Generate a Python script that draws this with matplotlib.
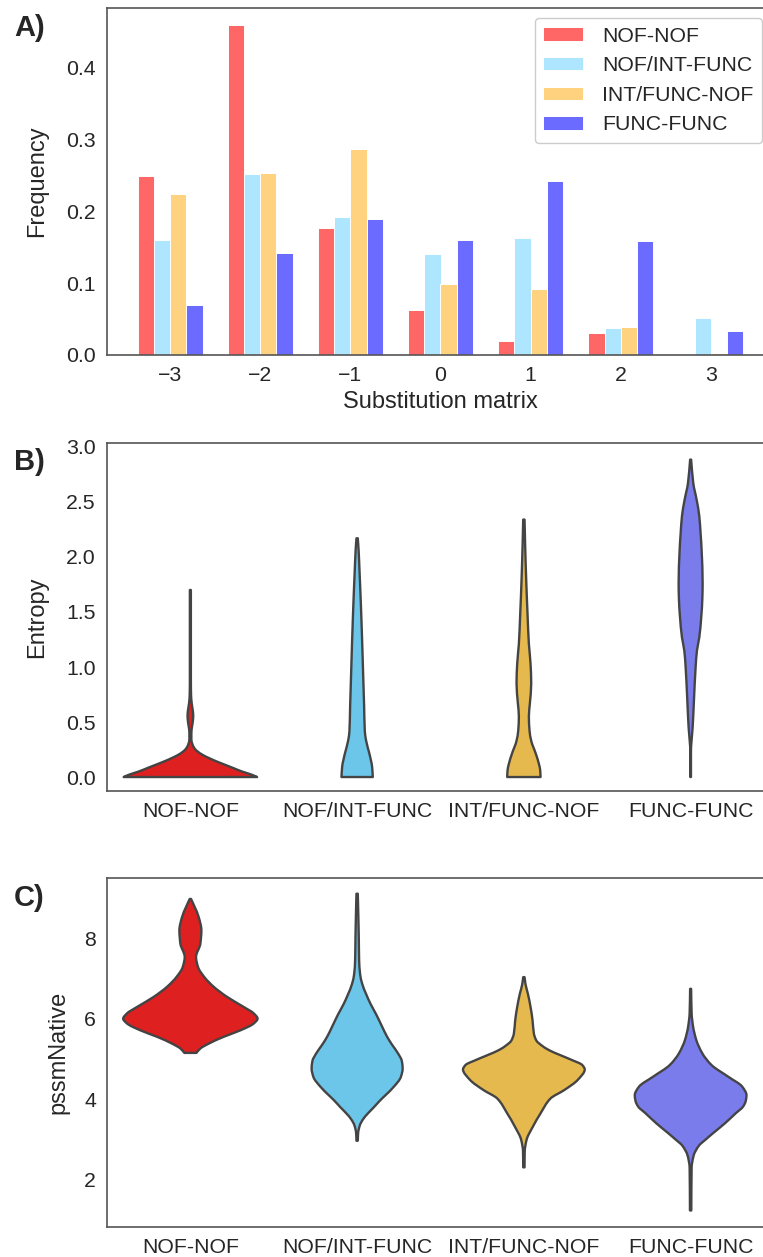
import numpy as np
import matplotlib
matplotlib.use('Agg')
import matplotlib.pyplot as plt
from matplotlib.path import Path
from matplotlib.patches import PathPatch

plt.rcParams['font.family'] = ['Liberation Sans', 'DejaVu Sans']

# --- data panel A ---
subst = [-3, -2, -1, 0, 1, 2, 3]
groups = ['NOF-NOF', 'NOF/INT-FUNC', 'INT/FUNC-NOF', 'FUNC-FUNC']
freq_nof_nof = [0.249, 0.458, 0.176, 0.062, 0.020, 0.030, 0.0]
freq_nof_int = [0.160, 0.251, 0.192, 0.140, 0.163, 0.037, 0.052]
freq_int_nof = [0.223, 0.253, 0.286, 0.098, 0.091, 0.039, 0.003]
freq_func_func = [0.069, 0.141, 0.189, 0.160, 0.242, 0.158, 0.033]
bar_colors = ['#FF6666', '#AEE6FF', '#FFD27F', '#6B6BFF']

# --- data panel B (entropy violins: value, half width) ---
ent_nof_nof_y = [0.0, 0.02, 0.05, 0.08, 0.11, 0.14, 0.17, 0.20, 0.23, 0.26, 0.30, 0.34, 0.40,
                 0.46, 0.51, 0.56, 0.61, 0.67, 0.75, 0.9, 1.2, 1.5, 1.70]
ent_nof_nof_w = [0.40, 0.37, 0.31, 0.26, 0.21, 0.16, 0.115, 0.075, 0.045, 0.025, 0.012, 0.006, 0.006,
                 0.010, 0.015, 0.017, 0.014, 0.008, 0.004, 0.003, 0.003, 0.003, 0.003]
ent_nof_int_y = [0.0, 0.09, 0.21, 0.33, 0.42, 0.64, 0.94, 1.24, 1.55, 1.85, 2.06, 2.17]
ent_nof_int_w = [0.094, 0.09, 0.074, 0.054, 0.046, 0.042, 0.036, 0.03, 0.023, 0.015, 0.009, 0.004]
ent_int_nof_y = [0.0, 0.06, 0.12, 0.21, 0.33, 0.42, 0.55, 0.67, 0.85, 1.03, 1.21, 1.48, 1.79, 2.09, 2.34]
ent_int_nof_w = [0.10, 0.098, 0.09, 0.072, 0.044, 0.034, 0.03, 0.036, 0.044, 0.04, 0.03, 0.022, 0.014,
                 0.008, 0.004]
ent_func_y = [0.0, 0.24, 0.32, 0.45, 0.70, 1.0, 1.15, 1.27, 1.46, 1.61, 1.76, 2.06, 2.21, 2.37, 2.52,
              2.67, 2.885]
ent_func_w = [0.002, 0.002, 0.005, 0.012, 0.02, 0.03, 0.038, 0.052, 0.064, 0.07, 0.072, 0.066, 0.06,
              0.052, 0.036, 0.016, 0.003]

# --- data panel C (pssmNative violins) ---
pssm_nof_nof_y = [5.15, 5.26, 5.38, 5.55, 5.71, 5.88, 6.00, 6.13, 6.29, 6.54, 6.79, 7.03, 7.28, 7.53,
                  7.86, 8.19, 8.52, 8.77, 8.97]
pssm_nof_nof_w = [0.036, 0.06, 0.11, 0.20, 0.30, 0.38, 0.403, 0.38, 0.32, 0.22, 0.14, 0.084, 0.046,
                  0.034, 0.06, 0.066, 0.05, 0.026, 0.004]
pssm_nof_int_y = [2.97, 3.16, 3.35, 3.50, 3.65, 3.80, 3.98, 4.10, 4.31, 4.55, 4.76, 4.95, 5.14, 5.35,
                  5.55, 5.80, 6.10, 6.37, 6.60, 6.87, 7.10, 7.45, 8.0, 8.6, 9.10]
pssm_nof_int_w = [0.004, 0.006, 0.016, 0.035, 0.065, 0.10, 0.14, 0.17, 0.22, 0.262, 0.273, 0.268, 0.245,
                  0.21, 0.18, 0.15, 0.115, 0.08, 0.055, 0.03, 0.018, 0.012, 0.01, 0.007, 0.004]
pssm_int_nof_y = [2.31, 2.70, 2.99, 3.32, 3.65, 4.02, 4.23, 4.48, 4.74, 4.85, 4.97, 5.10, 5.22, 5.34,
                  5.45, 5.63, 5.96, 6.29, 6.62, 6.85, 7.03]
pssm_int_nof_w = [0.004, 0.005, 0.016, 0.054, 0.10, 0.16, 0.243, 0.323, 0.365, 0.35, 0.29, 0.215,
                  0.15, 0.105, 0.076, 0.06, 0.052, 0.04, 0.024, 0.01, 0.004]
pssm_func_y = [1.24, 2.30, 2.60, 2.85, 3.00, 3.16, 3.40, 3.65, 3.82, 3.95, 4.10, 4.31, 4.56, 4.85,
               5.14, 5.47, 5.80, 6.13, 6.74]
pssm_func_w = [0.004, 0.006, 0.018, 0.05, 0.09, 0.135, 0.205, 0.27, 0.315, 0.33, 0.335, 0.31, 0.225,
               0.125, 0.07, 0.034, 0.015, 0.006, 0.003]

violin_colors = ['#DE2020', '#6CC6EA', '#E5B94D', '#7A7CEC']
edge = '#444444'
txt = '#262626'


def slopes(y, w):
    # monotone (pchip style) tangents dw/dy so the outline does not overshoot
    h = np.diff(y)
    d = np.diff(w) / h
    m = np.zeros_like(w)
    for i in range(1, len(w) - 1):
        if d[i - 1] * d[i] > 0:
            w1 = 2 * h[i] + h[i - 1]
            w2 = h[i] + 2 * h[i - 1]
            m[i] = (w1 + w2) / (w1 / d[i - 1] + w2 / d[i])
    m[0] = d[0]
    m[-1] = d[-1]
    return m


def side(x0, sign, y, w, m, verts, codes):
    for i in range(len(y) - 1):
        h = y[i + 1] - y[i]
        verts += [(x0 + sign * (w[i] + m[i] * h / 3), y[i] + h / 3),
                  (x0 + sign * (w[i + 1] - m[i + 1] * h / 3), y[i + 1] - h / 3),
                  (x0 + sign * w[i + 1], y[i + 1])]
        codes += [Path.CURVE4] * 3


def draw_violin(ax, x0, ys, ws, color):
    y = np.asarray(ys, float)
    w = np.asarray(ws, float)
    m = slopes(y, w)
    verts = [(x0 + w[0], y[0])]
    codes = [Path.MOVETO]
    side(x0, 1, y, w, m, verts, codes)
    yr, wr, mr = y[::-1], w[::-1], m[::-1]
    verts.append((x0 - wr[0], yr[0]))
    codes.append(Path.LINETO)
    side(x0, -1, yr, wr, mr, verts, codes)
    verts.append((x0 + w[0], y[0]))
    codes.append(Path.CLOSEPOLY)
    patch = PathPatch(Path(verts, codes), facecolor=color, edgecolor=edge, lw=1.7,
                      joinstyle='round')
    ax.add_patch(patch)


W, H = 763, 1257
fig = plt.figure(figsize=(W / 100, H / 100), dpi=100)

L, R = 107, 774


def make_ax(top, bottom):
    return fig.add_axes([L / W, 1 - bottom / H, (R - L) / W, (bottom - top) / H])


def style(ax):
    for s in ax.spines.values():
        s.set_color('#555555')
        s.set_linewidth(1.2)
    ax.tick_params(length=0, labelsize=15.3, labelcolor=txt, pad=8)


# panel A
axA = make_ax(8, 355)
x = np.array(subst, float)
series = [freq_nof_nof, freq_nof_int, freq_int_nof, freq_func_func]
bw = 0.18
for i, (vals, c, lab) in enumerate(zip(series, bar_colors, groups)):
    axA.bar(x + (i - 1.5) * bw, vals, width=bw, color=c, edgecolor='white', linewidth=0.7, label=lab)
axA.set_xlim(-3.7, 3.7)
axA.set_ylim(0, 0.482)
axA.set_xticks(subst)
axA.set_yticks([0.0, 0.1, 0.2, 0.3, 0.4])
style(axA)
axA.set_xlabel('Substitution matrix', fontsize=17, color=txt, labelpad=4)
axA.set_ylabel('Frequency', fontsize=17, color=txt)
axA.yaxis.set_label_coords((48 - L) / (R - L), 0.5)
leg = axA.legend(loc='upper right', bbox_to_anchor=(762 / W, 1 - 18 / H),
                 bbox_transform=fig.transFigure, borderaxespad=0, fontsize=15.3,
                 handlelength=1.88, handleheight=0.6, handletextpad=0.88, labelspacing=0.5,
                 frameon=True, fancybox=True, edgecolor='#cccccc', framealpha=1)
for t in leg.get_texts():
    t.set_color(txt)

# panel B
axB = make_ax(443, 791)
profiles_B = [(ent_nof_nof_y, ent_nof_nof_w), (ent_nof_int_y, ent_nof_int_w),
              (ent_int_nof_y, ent_int_nof_w), (ent_func_y, ent_func_w)]
for i, (ys, ws) in enumerate(profiles_B):
    draw_violin(axB, i, ys, ws, violin_colors[i])
axB.set_xlim(-0.5, 3.5)
axB.set_ylim(-0.127, 3.036)
axB.set_xticks(range(4))
axB.set_xticklabels(groups)
axB.set_yticks([0.0, 0.5, 1.0, 1.5, 2.0, 2.5, 3.0])
style(axB)
axB.set_ylabel('Entropy', fontsize=17, color=txt)
axB.yaxis.set_label_coords((48 - L) / (R - L), 0.5)

# panel C
axC = make_ax(878, 1227)
profiles_C = [(pssm_nof_nof_y, pssm_nof_nof_w), (pssm_nof_int_y, pssm_nof_int_w),
              (pssm_int_nof_y, pssm_int_nof_w), (pssm_func_y, pssm_func_w)]
for i, (ys, ws) in enumerate(profiles_C):
    draw_violin(axC, i, ys, ws, violin_colors[i])
axC.set_xlim(-0.5, 3.5)
axC.set_ylim(0.83, 9.49)
axC.set_xticks(range(4))
axC.set_xticklabels(groups)
axC.set_yticks([2, 4, 6, 8])
style(axC)
axC.set_ylabel('pssmNative', fontsize=17, color=txt)
axC.yaxis.set_label_coords((69 - L) / (R - L), 0.5)

for lab, yy in [('A)', 28), ('B)', 462), ('C)', 898)]:
    fig.text(14 / W, 1 - yy / H, lab, fontsize=21, fontweight='bold', color=txt,
             ha='left', va='center')

fig.savefig('out.png', dpi=100)
